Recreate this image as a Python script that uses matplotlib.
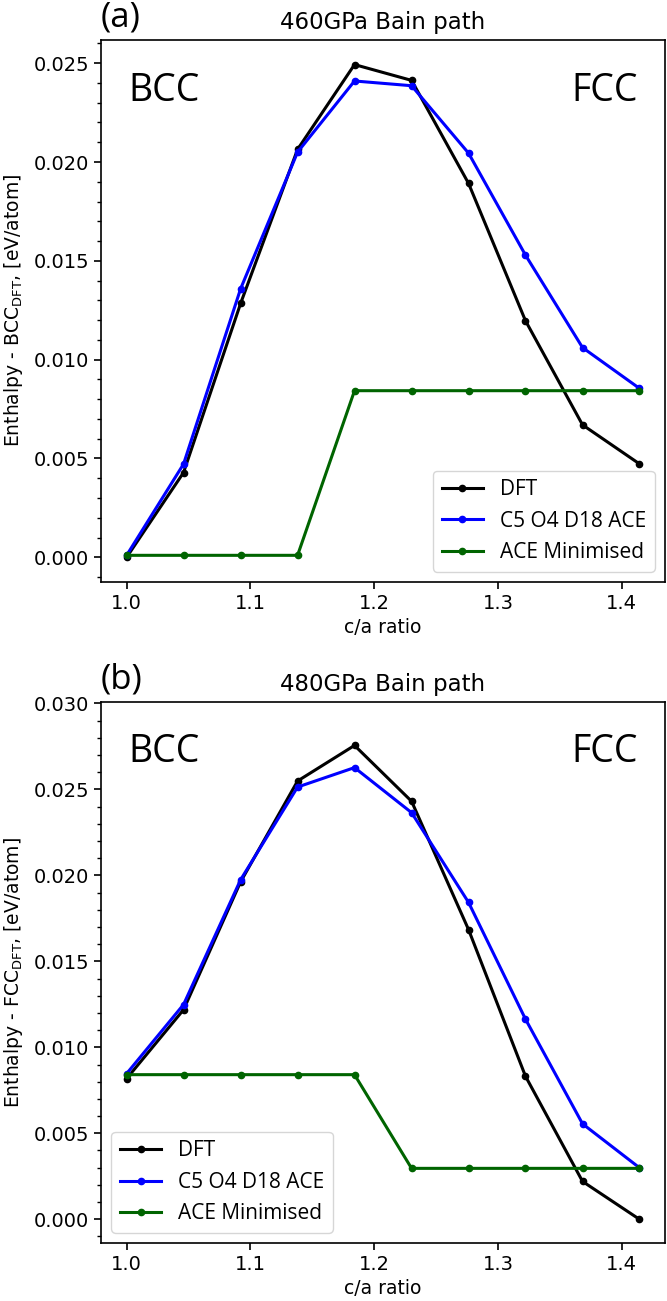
import matplotlib
matplotlib.use("Agg")
import matplotlib.pyplot as plt
from matplotlib.ticker import AutoMinorLocator

# c/a ratio along the Bain path (bcc -> fcc)
ca_ratio = [1.0, 1.0460, 1.0921, 1.1381, 1.1841, 1.2302, 1.2762, 1.3222, 1.3683, 1.4142]

# 460 GPa, relative to BCC DFT
dft_460 = [0.0000, 0.00429, 0.01285, 0.02064, 0.02493, 0.02413, 0.01892, 0.01197, 0.00670, 0.00473]
ace_460 = [0.0001, 0.00472, 0.01359, 0.02050, 0.02410, 0.02386, 0.02045, 0.01529, 0.01061, 0.00855]
min_460 = [0.0001, 0.0001, 0.0001, 0.0001, 0.00843, 0.00843, 0.00843, 0.00843, 0.00843, 0.00843]

# 480 GPa, relative to FCC DFT
dft_480 = [0.00818, 0.01219, 0.01963, 0.02549, 0.02756, 0.02431, 0.01685, 0.00832, 0.00220, 0.0000]
ace_480 = [0.00847, 0.01249, 0.01975, 0.02514, 0.02627, 0.02365, 0.01843, 0.01164, 0.00555, 0.00300]
min_480 = [0.00841, 0.00841, 0.00841, 0.00841, 0.00841, 0.00296, 0.00296, 0.00296, 0.00296, 0.00296]

labels = ["DFT", "C5 O4 D18 ACE", "ACE Minimised"]
colours = ["black", "blue", "darkgreen"]

panels = [
    ("(a)", "460GPa Bain path", r"Enthalpy - BCC$_{\mathrm{DFT}}$, [eV/atom]",
     [dft_460, ace_460, min_460], "lower right"),
    ("(b)", "480GPa Bain path", r"Enthalpy - FCC$_{\mathrm{DFT}}$, [eV/atom]",
     [dft_480, ace_480, min_480], "lower left"),
]

other_font = ["Open Sans", "DejaVu Sans"]

fig = plt.figure(figsize=(6.67, 13.01), dpi=100)
ax_a = fig.add_axes([0.1514, 0.5527, 0.8456, 0.4166])
ax_b = fig.add_axes([0.1514, 0.0446, 0.8456, 0.4160])

for ax, (tag, title, ylab, series, loc) in zip([ax_a, ax_b], panels):
    for vals, lab, col in zip(series, labels, colours):
        ax.plot(ca_ratio, vals, marker="o", ms=4.5, lw=2.2, color=col, label=lab)

    ax.set_title(title, fontsize=16.5, pad=8)
    ax.set_xlabel("c/a ratio", fontsize=13.5)
    ax.set_ylabel(ylab, fontsize=13.5, labelpad=6)
    ax.tick_params(labelsize=14, length=5, width=1.2)
    ax.tick_params(which="minor", length=3, width=1)
    ax.yaxis.set_minor_locator(AutoMinorLocator(5))
    ax.set_xticks([1.0, 1.1, 1.2, 1.3, 1.4])
    for s in ax.spines.values():
        s.set_linewidth(1.2)

    ax.text(0.0, 1.01, tag, transform=ax.transAxes, ha="left", va="bottom",
            fontsize=25, family=other_font)
    ax.text(0.048, 0.888, "BCC", transform=ax.transAxes, ha="left", va="baseline",
            fontsize=27, family=other_font)
    ax.text(0.952, 0.888, "FCC", transform=ax.transAxes, ha="right", va="baseline",
            fontsize=27, family=other_font)

    ax.legend(loc=loc, prop={"family": other_font, "size": 15}, handlelength=2.0)

ax_b.set_ylim(-0.00138, 0.0301)

fig.savefig("out.png", dpi=100)
